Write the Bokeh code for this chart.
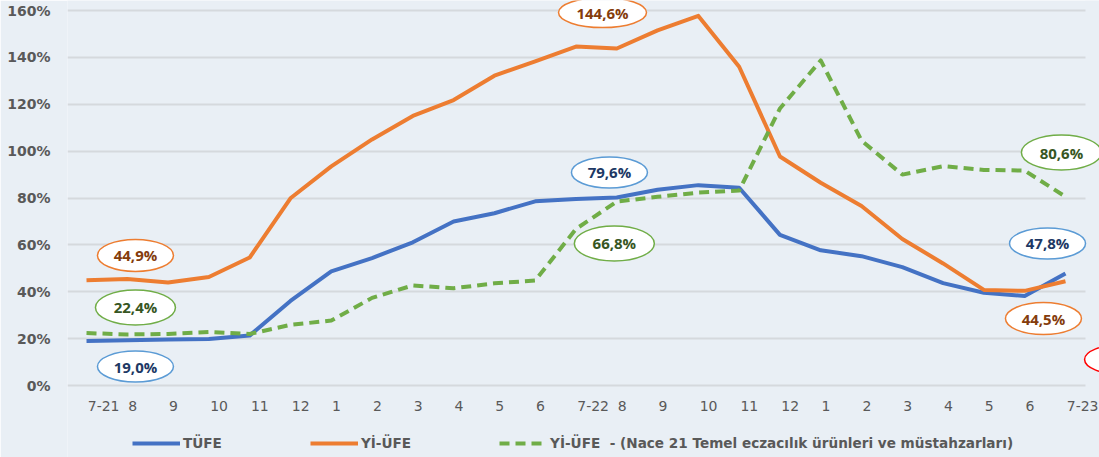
from bokeh.plotting import figure
from bokeh.models import FixedTicker, Range1d, Legend, LegendItem, BoxAnnotation
from bokeh.core.properties import value
from bokeh.embed import file_html
from bokeh.resources import INLINE

# ---------------- data ----------------
months = ["7-21", "8", "9", "10", "11", "12", "1", "2", "3", "4", "5", "6",
          "7-22", "8", "9", "10", "11", "12", "1", "2", "3", "4", "5", "6", "7-23"]

tufe = [19.0, 19.3, 19.6, 19.9, 21.3, 36.1, 48.7, 54.4, 61.1, 70.0, 73.5, 78.6,
        79.6, 80.2, 83.5, 85.5, 84.4, 64.3, 57.7, 55.2, 50.5, 43.7, 39.6, 38.2, 47.8]

yi_ufe = [44.9, 45.5, 44.0, 46.3, 54.6, 79.9, 93.5, 105.0, 115.0, 121.8, 132.2, 138.3,
          144.6, 143.8, 151.5, 157.7, 136.0, 97.7, 86.5, 76.6, 62.5, 52.1, 40.8, 40.4, 44.5]

nace21 = [22.4, 21.8, 22.0, 22.8, 22.0, 25.9, 27.7, 37.4, 42.7, 41.5, 43.6, 44.8,
          66.8, 78.5, 80.5, 82.3, 83.2, 118.2, 138.7, 104.5, 90.0, 93.6, 92.0, 91.7, 80.6]

series_names = ["TÜFE", "Yİ-ÜFE", "Yİ-ÜFE  - (Nace 21 Temel eczacılık ürünleri ve müstahzarları)"]

y_ticks = [0, 20, 40, 60, 80, 100, 120, 140, 160]
y_tick_labels = ["0%", "20%", "40%", "60%", "80%", "100%", "120%", "140%", "160%"]

# callout bubbles (value labels)
ann_text = ["44,9%", "22,4%", "19,0%", "144,6%", "79,6%", "66,8%", "80,6%", "47,8%", "44,5%"]
ann_pos = [1.2, 1.2, 1.2, 12.65, 12.82, 12.94, 23.9, 23.56, 23.46]     # in month steps
ann_val = [55.5, 33.3, 8.1, 159.1, 90.9, 60.6, 99.4, 60.6, 28.6]      # in %
ann_kind = ["o", "g", "b", "o", "b", "g", "g", "b", "o"]

# ---------------- styling ----------------
BG = "#e9eff5"
BLUE, ORANGE, GREEN = "#4472c4", "#ed7d31", "#70ad47"
edge = {"o": ORANGE, "g": GREEN, "b": "#5b9bd5"}
txtc = {"o": "#843c0c", "g": "#375623", "b": "#203864"}
ann_w = {"o": 76, "g": 80, "b": 76}
ann_h = {"o": 32, "g": 35, "b": 31}

STEP = 100
x = [i * STEP for i in range(len(months))]

p = figure(width=1099, height=457, output_backend="svg", toolbar_location=None,
           x_range=Range1d(-46.6, 2483.4), y_range=Range1d(-30.7, 164.27),
           min_border_left=67, min_border_right=0, min_border_top=0, min_border_bottom=0,
           background_fill_color=BG, border_fill_color=BG, outline_line_color=None)

# grid
p.xgrid.visible = False
p.ygrid.ticker = FixedTicker(ticks=y_ticks)
p.ygrid.grid_line_color = "#d5d9dd"
p.ygrid.grid_line_width = 2
# the grid stops short of the right edge of the picture
p.add_layout(BoxAnnotation(left=2449, fill_color=BG, fill_alpha=1, line_alpha=0, level="underlay"))

# y axis
p.yaxis.ticker = FixedTicker(ticks=y_ticks)
p.yaxis.major_label_overrides = {t: l for t, l in zip(y_ticks, y_tick_labels)}
p.yaxis.major_label_text_font = "DejaVu Sans"
p.yaxis.major_label_text_font_style = "bold"
p.yaxis.major_label_text_font_size = "14px"
p.yaxis.major_label_text_color = "#595959"
p.yaxis.major_label_standoff = 17

# x axis: labels start at their month position
def label_offset(lbl):
    return {1: 13, 2: 25}.get(len(lbl), 42)

x_ticks = [xi + label_offset(l) for xi, l in zip(x, months)]
p.xaxis.ticker = FixedTicker(ticks=x_ticks)
p.xaxis.major_label_overrides = {t: l for t, l in zip(x_ticks, months)}
p.xaxis.major_label_text_font = "DejaVu Sans"
p.xaxis.major_label_text_font_size = "14px"
p.xaxis.major_label_text_color = "#595959"
p.xaxis.major_label_standoff = 15
p.xaxis.fixed_location = 0

for ax in (p.xaxis, p.yaxis):
    ax.axis_line_color = None
    ax.major_tick_line_color = None
    ax.minor_tick_line_color = None
    ax.major_tick_out = 0
    ax.major_tick_in = 0

# lines
r1 = p.line(x, tufe, line_color=BLUE, line_width=4, line_join="round")
r2 = p.line(x, yi_ufe, line_color=ORANGE, line_width=4, line_join="round")
r3 = p.line(x, nace21, line_color=GREEN, line_width=4, line_dash="10 6", line_join="round")

# callouts
ax_ = [v * STEP for v in ann_pos]
p.ellipse(ax_, ann_val, width=[ann_w[k] + (12 if t == "144,6%" else 0) for k, t in zip(ann_kind, ann_text)],
          height=[ann_h[k] - (2 if t == "144,6%" else 0) for k, t in zip(ann_kind, ann_text)],
          width_units="screen", height_units="screen",
          fill_color="white", line_color=[edge[k] for k in ann_kind], line_width=1.5)
p.text(ax_, ann_val, text=ann_text, text_align="center", text_baseline="middle",
       text_font=value("Open Sans"), text_font_style="bold", text_font_size="15px",
       text_color=[txtc[k] for k in ann_kind])

# partially visible red callout at the right edge
p.ellipse([25.4 * STEP], [11.1], width=76, height=30, width_units="screen", height_units="screen",
          fill_color="white", line_color="#ff0000", line_width=1.5)

legend = Legend(items=[LegendItem(label=series_names[0], renderers=[r1]),
                       LegendItem(label=series_names[1], renderers=[r2]),
                       LegendItem(label=series_names[2], renderers=[r3])],
                location=(65, 6), orientation="horizontal", spacing=88,
                glyph_width=48, glyph_height=16, label_height=16, label_standoff=3,
                padding=0, margin=0,
                background_fill_alpha=0, border_line_alpha=0,
                label_text_font="DejaVu Sans", label_text_font_style="bold",
                label_text_font_size="13.6px", label_text_color="#595959")
p.add_layout(legend)

open("out.html", "w").write(file_html(p, INLINE))
